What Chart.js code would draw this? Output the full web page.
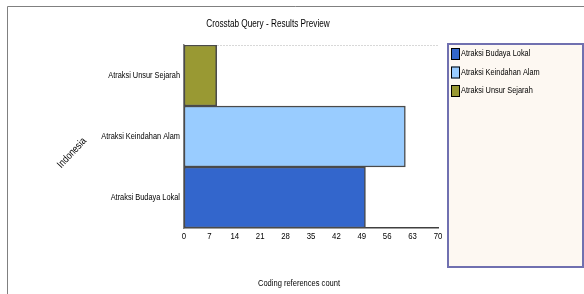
<!DOCTYPE html>
<html>
<head>
<meta charset="utf-8">
<script src="https://cdn.jsdelivr.net/npm/chart.js@4/dist/chart.umd.min.js"></script>
<style>
  body { margin: 0; background: #fff; }
  #chart { display: block; }
</style>
</head>
<body>
<canvas id="chart" width="584" height="294"></canvas>
<script>
// Data
const categories = ["Atraksi Unsur Sejarah", "Atraksi Keindahan Alam", "Atraksi Budaya Lokal"];
const seriesNames = ["Atraksi Budaya Lokal", "Atraksi Keindahan Alam", "Atraksi Unsur Sejarah"];
const budayaLokal = [null, null, 50];
const keindahanAlam = [null, 61, null];
const unsurSejarah = [9, null, null];
const xTicks = [0, 7, 14, 21, 28, 35, 42, 49, 56, 63, 70];

const titleText = "Crosstab Query - Results Preview";
const xTitle = "Coding references count";
const yTitle = "Indonesia";

const FONT = "'Liberation Sans', Arial, sans-serif";
const NARROW = 0.82; // no narrow font installed, squeeze text instead
const colors = ["#3366CC", "#99CCFF", "#999933"];

function narrowText(c, text, x, y, align, size) {
  c.save();
  c.font = size + "px " + FONT;
  c.textAlign = align;
  c.textBaseline = "middle";
  c.translate(x, y);
  c.scale(NARROW, 1);
  c.fillText(text, 0, 0);
  c.restore();
}

// frame, titles, tick labels and legend box
const decor = {
  id: "decor",
  beforeDraw(chart) {
    const c = chart.ctx;
    c.save();
    c.strokeStyle = "#808080";
    c.lineWidth = 1;
    c.beginPath();
    c.moveTo(7.5, 294);
    c.lineTo(7.5, 6.5);
    c.lineTo(584, 6.5);
    c.stroke();

    // legend panel
    c.fillStyle = "#FDF8F2";
    c.fillRect(448, 44, 135, 223);
    c.strokeStyle = "#7070B0";
    c.lineWidth = 2;
    c.strokeRect(448, 44, 135, 223);
    c.restore();
  },
  afterDraw(chart) {
    const c = chart.ctx;
    c.fillStyle = "#000";
    narrowText(c, titleText, 268, 24, "center", 10);
    narrowText(c, xTitle, 299, 283, "center", 9.2);

    c.save();
    c.translate(72, 153);
    c.rotate(-0.26 * Math.PI);
    narrowText(c, yTitle, 0, 0, "center", 10.5);
    c.restore();

    // tick labels taken from the scales
    const ys = chart.scales.y, xs = chart.scales.x;
    ys.ticks.forEach((t, i) => {
      narrowText(c, ys.getLabelForValue(t.value), ys.right - 4, ys.getPixelForTick(i), "right", 9);
    });
    xs.ticks.forEach((t, i) => {
      narrowText(c, String(t.value), xs.getPixelForTick(i), xs.top + 8, "center", 9.5);
    });

    // legend items from datasets
    chart.data.datasets.forEach((ds, i) => {
      const y = 48 + i * 18.5;
      c.fillStyle = ds.backgroundColor;
      c.fillRect(451, y, 9, 12);
      c.strokeStyle = "#000";
      c.lineWidth = 1;
      c.strokeRect(451.5, y + 0.5, 8, 11);
      c.fillStyle = "#000";
      narrowText(c, ds.label, 461, y + 6, "left", 9);
    });
  }
};

const datasets = [budayaLokal, keindahanAlam, unsurSejarah].map((vals, i) => ({
  label: seriesNames[i],
  data: vals,
  backgroundColor: colors[i],
  borderColor: "#4a4a4a",
  borderWidth: 1.5,
  borderSkipped: false,
  grouped: false,
  barPercentage: 1,
  categoryPercentage: 1
}));

new Chart(document.getElementById("chart"), {
  type: "bar",
  data: { labels: categories, datasets: datasets },
  options: {
    indexAxis: "y",
    responsive: false,
    animation: false,
    events: [],
    layout: { padding: { left: 0, top: 45, right: 146, bottom: 46 } },
    plugins: {
      legend: { display: false },
      title: { display: false },
      tooltip: { enabled: false }
    },
    scales: {
      x: {
        min: 0,
        max: 70,
        afterBuildTicks(scale) { scale.ticks = xTicks.map(v => ({ value: v })); },
        afterFit(scale) { scale.height = 20; },
        grid: { display: false },
        border: { display: true, color: "#404040", width: 1.5 },
        ticks: { display: false }
      },
      y: {
        afterFit(scale) { scale.width = 184; },
        grid: {
          display: true,
          drawTicks: false,
          color: ctx => ctx.index === 0 ? "#b0b0b0" : "rgba(0,0,0,0)",
          lineWidth: 1
        },
        border: { display: true, color: "#808080", width: 1.5, dash: [1, 2] },
        ticks: { display: false }
      }
    }
  },
  plugins: [decor]
});
</script>
</body>
</html>
